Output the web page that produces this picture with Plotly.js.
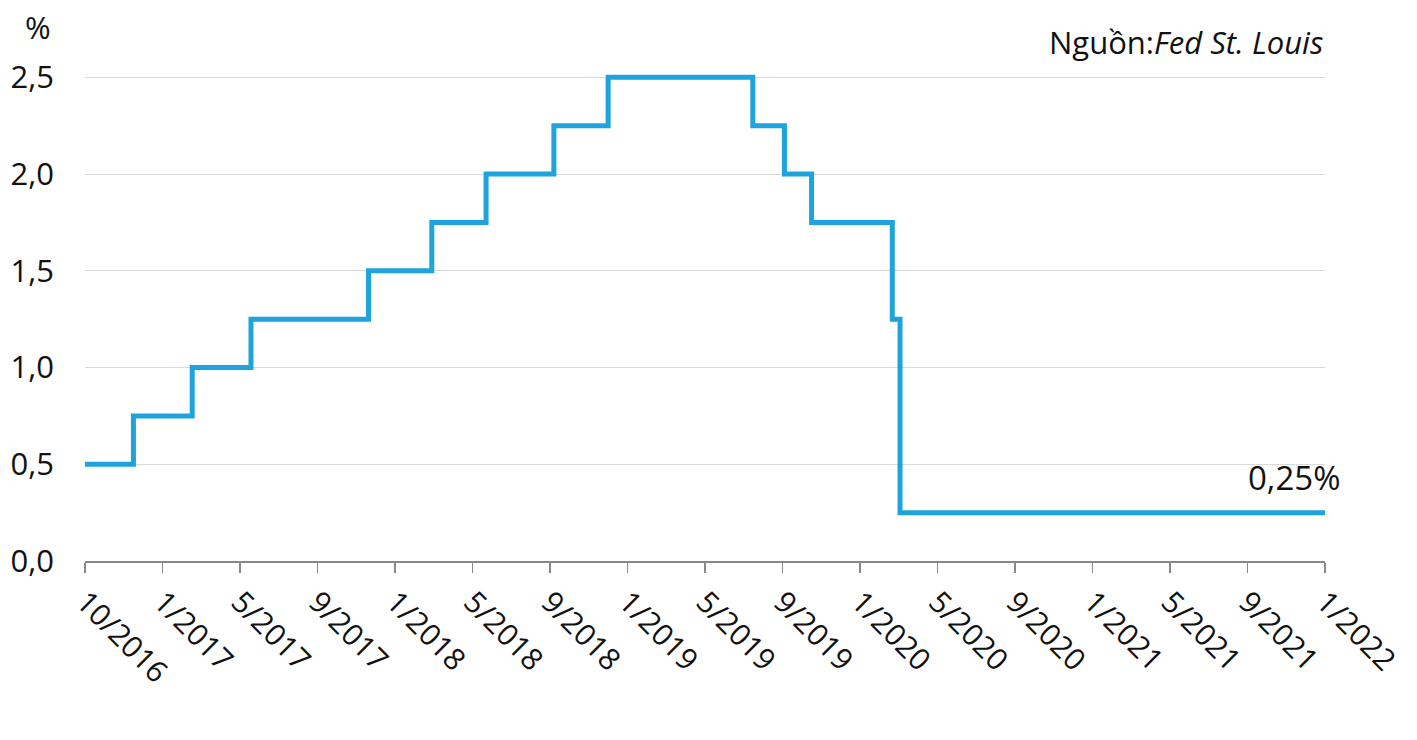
<!DOCTYPE html>
<html>
<head>
<meta charset="utf-8">
<script src="https://cdn.plot.ly/plotly-3.0.1.min.js"></script>
<style>html,body{margin:0;padding:0;background:#fff;}#chart{width:1417px;height:740px;}</style>
</head>
<body>
<div id="chart"></div>
<script>
// Fed funds target rate (upper bound), change dates
const dates = ["2016-10-01","2016-12-15","2017-03-16","2017-06-15","2017-12-14","2018-03-22","2018-06-14","2018-09-27","2018-12-20","2019-08-01","2019-09-19","2019-10-31","2020-03-04","2020-03-16","2022-01-03"];
const rates = [0.5,0.75,1.0,1.25,1.5,1.75,2.0,2.25,2.5,2.25,2.0,1.75,1.25,0.25,0.25];

// Tick positions every 120 days from 10/2016
const tickDates = ["2016-10-01","2017-01-29","2017-05-29","2017-09-26","2018-01-24","2018-05-24","2018-09-21","2019-01-19","2019-05-19","2019-09-16","2020-01-14","2020-05-13","2020-09-10","2021-01-08","2021-05-08","2021-09-05","2022-01-03"];
const tickLabels = ["10/2016","1/2017","5/2017","9/2017","1/2018","5/2018","9/2018","1/2019","5/2019","9/2019","1/2020","5/2020","9/2020","1/2021","5/2021","9/2021","1/2022"];
const yTicks = [0,0.5,1.0,1.5,2.0,2.5];

const font = "'Open Sans', Lato, sans-serif";

const trace = {
  x: dates, y: rates, type: "scatter", mode: "lines",
  line: {shape: "hv", color: "#1fa3dc", width: 5},
  hoverinfo: "x+y"
};

const layout = {
  width: 1417, height: 740,
  margin: {l: 85, r: 92, t: 57.6, b: 179},
  paper_bgcolor: "#fff", plot_bgcolor: "#fff",
  separators: ",.",
  showlegend: false,
  font: {family: font, color: "#111", size: 29},
  xaxis: {
    type: "date",
    range: ["2016-10-01","2022-01-03"],
    tickvals: tickDates, ticktext: tickLabels,
    tickangle: 45,
    ticks: "outside", ticklen: 10, tickwidth: 1.5, tickcolor: "#888",
    showline: true, linecolor: "#888", linewidth: 1.5,
    showgrid: false, zeroline: false,
    tickfont: {family: font, size: 30, color: "#111"}
  },
  yaxis: {
    range: [0, 2.6],
    tickvals: yTicks, tickformat: ".1f",
    showgrid: true, gridcolor: "#d9d9d9", gridwidth: 1,
    zeroline: false, showline: false, ticks: "",
    ticklabelstandoff: 30,
    tickfont: {family: font, size: 31, color: "#111"}
  },
  annotations: [
    {text: "%", xref: "paper", yref: "paper", x: -0.0379, y: 1.0608, xanchor: "center", yanchor: "middle", showarrow: false, font: {family: font, size: 31, color: "#111"}},
    {text: "Nguồn:<i>Fed St. Louis</i>", xref: "paper", yref: "paper", x: 1, y: 1.031, xanchor: "right", yanchor: "middle", showarrow: false, font: {family: font, size: 31, color: "#111"}},
    {text: "0,25%", xref: "paper", yref: "y", x: 1.0137, y: 0.43, xanchor: "right", yanchor: "middle", showarrow: false, font: {family: font, size: 33, color: "#111"}}
  ]
};

Plotly.newPlot("chart", [trace], layout, {displayModeBar: false, staticPlot: true});
</script>
</body>
</html>
